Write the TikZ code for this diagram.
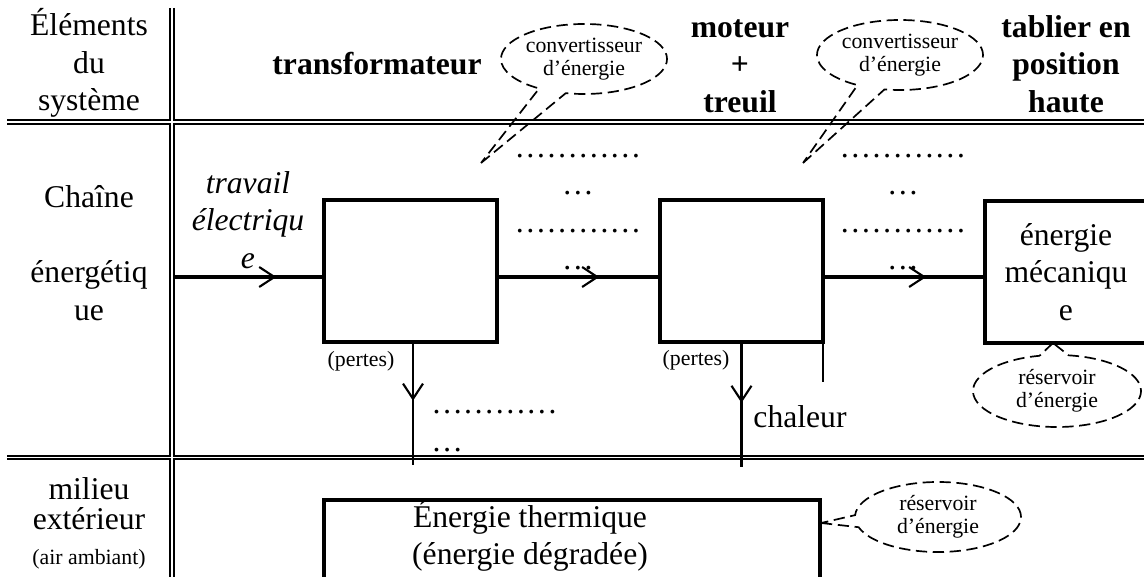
\documentclass[tikz,border=0pt]{standalone}
\usepackage{fontspec}
\setmainfont{Liberation Serif}
\usetikzlibrary{arrows.meta, shapes.callouts, decorations.markings}
\newcommand{\mainsize}{\fontsize{22.5}{26.7}\selectfont}
\newcommand{\notesize}{\fontsize{15.5}{16.4}\selectfont}
\tikzset{conv/.style = {shape=rectangle, draw, line width=2.4pt, inner sep=0pt}}
\tikzset{head/.style = {align=center, font=\mainsize\bfseries}}
\tikzset{note/.style = {font=\notesize}}
\tikzset{bubble/.style = {shape=ellipse callout, draw, line width=1.2pt, dash pattern=on 8pt off 4pt,
    inner sep=0pt, minimum width=4.15cm, minimum height=1.75cm, align=center, callout pointer arc=20, font=\notesize}}
\tikzset{flow/.style = {line width=2.6pt, postaction={decorate}, decoration={markings,
    mark=at position #1 with {\arrow{Straight Barb[length=0.38cm, width=0.5cm, line width=1.5pt]}}}}}
\tikzset{loss/.style = {flow=#1, line width=1.6pt}}

\begin{document}
\begin{tikzpicture}[x=0.025cm, y=-0.025cm, font=\mainsize]
        \useasboundingbox (0,0) rectangle (1144,577);
        % table rules
        \foreach \lw/\col in {3.8pt/black, 1.4pt/white}
            \draw[line width=\lw, color=\col] (7,122) -- (1150,122) (7,457.5) -- (1150,457.5) (172,8) -- (172,590);
        % first row
        \node[align=center] (elem) at (89,63) {Éléments\\du\\système};
        \node[anchor=base, font=\mainsize\bfseries] (transf) at (377,75) {transformateur};
        \node[head] (motor) at (740,66) {moteur\\+\\treuil};
        \node[head] (deck) at (1066,64) {tablier en\\position\\haute};
        \coordinate (tip1) at (481,163);
        \node[bubble, callout absolute pointer={(tip1)}] (note1) at (584,59) {convertisseur\\d’énergie};
        \coordinate (tip2) at (803,163);
        \node[bubble, callout absolute pointer={(tip2)}] (note2) at (900,55) {convertisseur\\d’énergie};
        % energy chain
        \node[align=center] (chain) at (89,253) {Chaîne\\[26.7pt]énergétiq\\ue};
        \node[align=center, font=\mainsize\itshape] (work) at (248,220) {travail\\électriqu\\e};
        \node[conv, minimum width=4.325cm, minimum height=3.55cm] (conv1) at (410.5,271) {};
        \node[conv, minimum width=4.075cm, minimum height=3.55cm] (conv2) at (741.5,271) {};
        \node[conv, minimum width=4.05cm, minimum height=3.55cm, align=center] (store) at (1066,272) {énergie\\mécaniqu\\e};
        \node[align=center] (dots1) at (578,212) {…………\\…\\…………\\…};
        \node[align=center] (dots2) at (903,212) {…………\\…\\…………\\…};
        \coordinate (in) at (174,277);
        \draw[flow=0.69] (in) -- (in -| conv1.west);
        \draw[flow=0.63] (conv1.east |- in) -- (conv2.west |- in);
        \draw[flow=0.64] (conv2.east |- in) -- (store.west |- in);
        \node[note, anchor=base] (loss1) at (361,366) {(pertes)};
        \node[note, anchor=base] (loss2) at (696,365) {(pertes)};
        \coordinate (sink1) at (413,465);
        \coordinate (sink2) at (741.5,467);
        \draw[loss=0.47] (conv1.south -| sink1) -- (sink1);
        \draw[loss=0.48] (conv2.south) -- (sink2);
        \coordinate (stub) at (823,382);
        \draw[line width=1.6pt] (stub |- conv2.south) -- (stub);
        \node[align=left, anchor=west, inner sep=0pt] (dots3) at (431,431) {…………\\…};
        \node[anchor=base] (heat1) at (800,427) {chaleur};
        \coordinate (tip3) at (1053,343);
        \node[bubble, minimum width=4.2cm, minimum height=1.8cm, callout absolute pointer={(tip3)}] (note3) at (1057,391) {réservoir\\d’énergie};
        % surroundings
        \node[align=center] (outside) at (89,523) {milieu\\[-5.4pt]extérieur\\[-1.8pt]{\notesize (air ambiant)}};
        \node[conv, minimum width=12.4cm, minimum height=2.05cm] (heat) at (572,541) {};
        \node[align=center] (heattext) at (530,536) {Énergie thermique\\(énergie dégradée)};
        \coordinate (tip4) at (821,523);
        \node[bubble, callout absolute pointer={(tip4)}] (note4) at (938,517) {réservoir\\d’énergie};
\end{tikzpicture}
\end{document}
